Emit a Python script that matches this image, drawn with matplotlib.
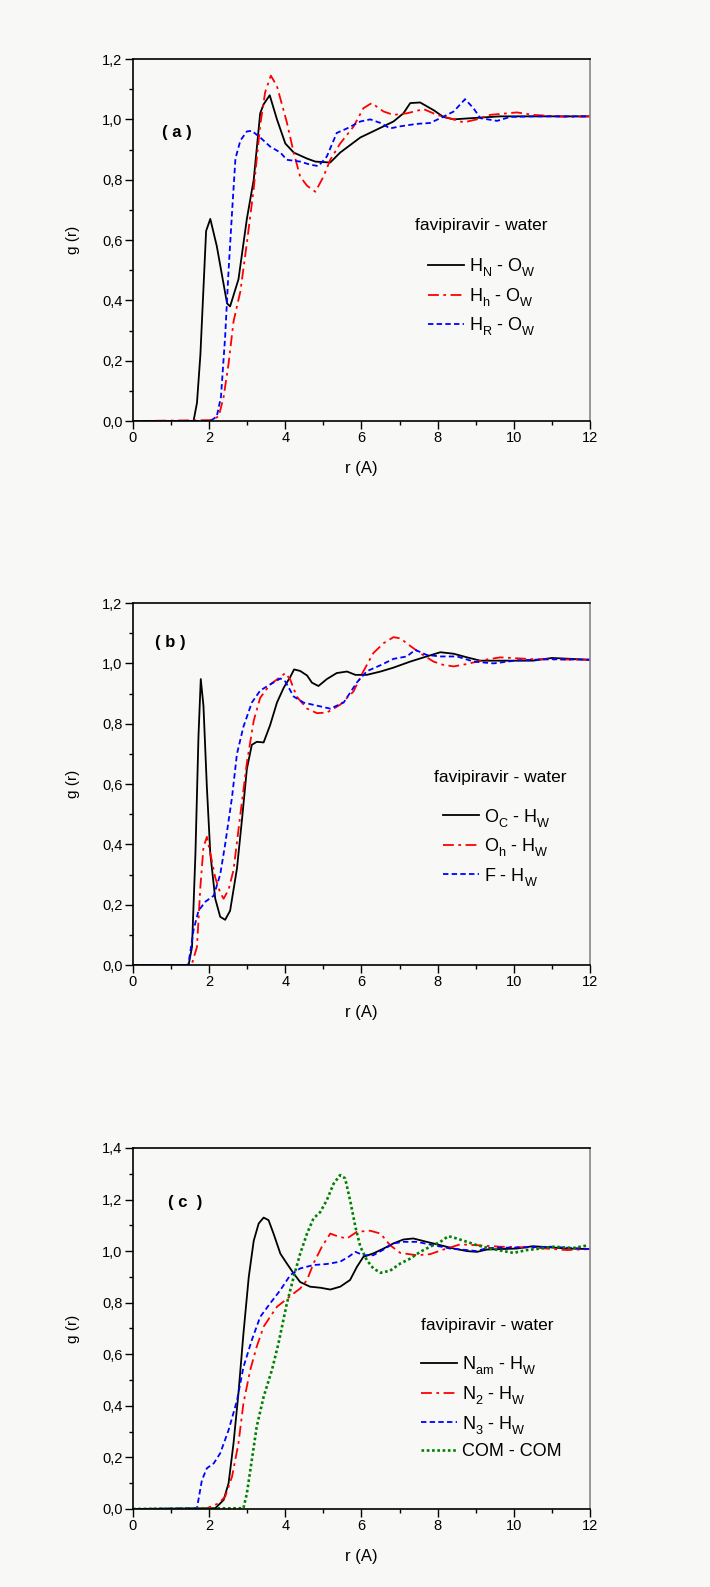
import numpy as np
import matplotlib
matplotlib.use('Agg')
import matplotlib.pyplot as plt
from matplotlib.ticker import MultipleLocator
import matplotlib._mathtext as mt

plt.rcParams['font.family'] = ['Liberation Sans', 'DejaVu Sans']
plt.rcParams['mathtext.default'] = 'regular'
# subscripts sit lower in the original figure
mt.FontConstantsBase.sub1 = 0.5
mt.FontConstantsBase.sub2 = 0.6

# ---------------- panel (a) : favipiravir H - water O ----------------
a_hn_r = [0, 1.59, 1.68, 1.77, 1.92, 2.03, 2.2, 2.47, 2.55, 2.77, 2.99, 3.17, 3.34, 3.43, 3.59, 3.78,
          4.0, 4.22, 4.57, 4.79, 5.18, 5.44, 5.97, 6.4, 6.84, 7.1, 7.28, 7.54, 7.9, 8.15, 8.42, 8.77,
          9.64, 12]
a_hn_g = [0, 0, 0.06, 0.22, 0.63, 0.67, 0.58, 0.39, 0.38, 0.47, 0.67, 0.80, 1.02, 1.05, 1.08, 1.0,
          0.92, 0.89, 0.87, 0.86, 0.857, 0.89, 0.94, 0.966, 0.993, 1.02, 1.054, 1.056, 1.03, 1.008, 1.0, 1.003,
          1.01, 1.01]
a_hh_r = [0, 2.03, 2.25, 2.38, 2.51, 2.64, 2.82, 2.99, 3.17, 3.34, 3.47, 3.62, 3.78, 4.04, 4.22, 4.39,
          4.57, 4.79, 5.0, 5.18, 5.44, 5.79, 6.05, 6.27, 6.58, 6.84, 7.19, 7.63, 7.98, 8.42, 8.68, 9.03,
          9.38, 10.08, 10.5, 11.4, 12]
a_hh_g = [0, 0.003, 0.015, 0.08, 0.19, 0.33, 0.43, 0.59, 0.77, 0.98, 1.09, 1.145, 1.11, 0.99, 0.89, 0.81,
          0.78, 0.76, 0.81, 0.866, 0.92, 0.976, 1.037, 1.054, 1.026, 1.015, 1.02, 1.034, 1.015, 1.0, 0.99, 1.0,
          1.015, 1.023, 1.015, 1.008, 1.01]
a_hr_r = [0, 2.03, 2.2, 2.31, 2.42, 2.51, 2.6, 2.69, 2.82, 2.99, 3.12, 3.34, 3.6, 3.87, 4.04, 4.39,
          4.65, 4.87, 5.09, 5.35, 5.62, 5.97, 6.23, 6.5, 6.75, 7.02, 7.45, 7.8, 8.07, 8.42, 8.72, 8.94,
          9.12, 9.56, 9.9, 10.5, 12]
a_hr_g = [0, 0, 0.015, 0.08, 0.28, 0.5, 0.69, 0.87, 0.93, 0.96, 0.962, 0.94, 0.91, 0.89, 0.866, 0.86,
          0.85, 0.845, 0.877, 0.955, 0.97, 0.993, 1.0, 0.988, 0.97, 0.977, 0.985, 0.988, 1.004, 1.026, 1.067, 1.037,
          1.004, 0.995, 1.008, 1.01, 1.01]

# ---------------- panel (b) : favipiravir O/F - water H ----------------
b_oc_r = [0, 1.46, 1.55, 1.64, 1.72, 1.78, 1.85, 1.94, 2.03, 2.16, 2.29, 2.42, 2.55, 2.73, 2.86, 2.99,
          3.12, 3.25, 3.43, 3.6, 3.78, 3.96, 4.13, 4.23, 4.39, 4.57, 4.7, 4.87, 5.09, 5.35, 5.62, 5.84,
          6.14, 6.5, 6.84, 7.28, 7.71, 8.07, 8.42, 8.77, 9.12, 9.64, 10.5, 11.0, 12]
b_oc_g = [0, 0, 0.06, 0.37, 0.76, 0.948, 0.86, 0.59, 0.37, 0.22, 0.16, 0.15, 0.18, 0.32, 0.48, 0.65,
          0.73, 0.74, 0.738, 0.795, 0.87, 0.92, 0.955, 0.98, 0.975, 0.96, 0.936, 0.925, 0.948, 0.968, 0.973, 0.962,
          0.962, 0.973, 0.986, 1.006, 1.023, 1.037, 1.032, 1.02, 1.009, 1.009, 1.009, 1.018, 1.012]
b_oh_r = [0, 1.5, 1.55, 1.68, 1.77, 1.85, 1.94, 2.03, 2.16, 2.29, 2.38, 2.51, 2.64, 2.82, 2.99, 3.17,
          3.34, 3.6, 3.87, 4.0, 4.13, 4.3, 4.57, 4.83, 5.09, 5.44, 5.79, 6.05, 6.31, 6.58, 6.84, 7.02,
          7.28, 7.54, 7.89, 8.15, 8.42, 8.77, 9.2, 9.64, 10.5, 12]
b_oh_g = [0, 0, 0.005, 0.06, 0.26, 0.39, 0.425, 0.37, 0.29, 0.24, 0.22, 0.25, 0.315, 0.50, 0.67, 0.81,
          0.886, 0.93, 0.955, 0.968, 0.946, 0.89, 0.85, 0.835, 0.837, 0.863, 0.907, 0.974, 1.034, 1.067, 1.087, 1.083,
          1.058, 1.034, 1.006, 0.995, 0.99, 0.998, 1.011, 1.02, 1.014, 1.012]
b_f_r = [0, 1.45, 1.5, 1.59, 1.72, 1.9, 2.12, 2.29, 2.42, 2.6, 2.73, 2.9, 3.12, 3.34, 3.6, 3.87,
         4.0, 4.22, 4.48, 4.83, 5.18, 5.53, 5.88, 6.14, 6.5, 6.84, 7.19, 7.41, 7.71, 8.07, 8.51, 8.94,
         9.47, 10.08, 10.95, 12]
b_f_g = [0, 0, 0.04, 0.116, 0.18, 0.21, 0.23, 0.30, 0.40, 0.556, 0.70, 0.79, 0.87, 0.91, 0.93, 0.95,
         0.94, 0.89, 0.87, 0.86, 0.85, 0.87, 0.937, 0.974, 0.994, 1.015, 1.023, 1.045, 1.028, 1.023, 1.023, 1.006,
         1.0, 1.01, 1.014, 1.012]

# ---------------- panel (c) : favipiravir N - water H, COM - COM ----------------
c_nam_r = [0, 2.16, 2.38, 2.51, 2.64, 2.77, 2.9, 3.04, 3.17, 3.3, 3.43, 3.56, 3.69, 3.87, 4.04, 4.22,
           4.39, 4.65, 4.92, 5.18, 5.44, 5.7, 5.88, 6.05, 6.31, 6.58, 6.84, 7.1, 7.36, 7.71, 8.07, 8.42,
           8.77, 9.03, 9.29, 10.08, 10.5, 11.4, 12]
c_nam_g = [0, 0.003, 0.035, 0.1, 0.255, 0.45, 0.68, 0.90, 1.04, 1.107, 1.13, 1.12, 1.068, 0.99, 0.952, 0.913,
           0.88, 0.862, 0.858, 0.851, 0.862, 0.888, 0.939, 0.978, 0.991, 1.01, 1.03, 1.045, 1.049, 1.036, 1.023, 1.01,
           1.0, 0.997, 1.006, 1.01, 1.019, 1.01, 1.008]
c_n2_r = [0, 1.9, 2.03, 2.25, 2.42, 2.6, 2.77, 2.9, 3.08, 3.25, 3.43, 3.6, 3.78, 4.0, 4.22, 4.39,
          4.57, 4.74, 4.96, 5.18, 5.4, 5.62, 5.88, 6.23, 6.5, 6.75, 7.02, 7.45, 7.8, 8.15, 8.59, 9.03,
          9.64, 10.5, 11.4, 12]
c_n2_g = [0, 0, 0.009, 0.022, 0.048, 0.125, 0.255, 0.41, 0.54, 0.63, 0.707, 0.745, 0.784, 0.81, 0.836, 0.855,
          0.888, 0.952, 1.017, 1.068, 1.056, 1.049, 1.075, 1.079, 1.068, 1.023, 0.993, 0.984, 0.988, 1.006, 1.026, 1.023,
          1.017, 1.014, 1.004, 1.008]
c_n3_r = [0, 1.68, 1.81, 1.94, 2.12, 2.29, 2.51, 2.73, 2.9, 3.12, 3.34, 3.6, 3.87, 4.13, 4.39, 4.74,
          5.09, 5.44, 5.66, 5.84, 6.05, 6.31, 6.58, 6.84, 7.1, 7.45, 7.89, 8.33, 8.77, 9.03, 9.29, 10.08,
          10.95, 12]
c_n3_g = [0, 0.003, 0.112, 0.158, 0.177, 0.216, 0.306, 0.42, 0.55, 0.655, 0.745, 0.797, 0.849, 0.907, 0.933, 0.946,
          0.95, 0.959, 0.978, 0.997, 0.984, 0.984, 1.006, 1.03, 1.036, 1.036, 1.023, 1.01, 1.004, 1.0, 1.012, 1.014,
          1.017, 1.008]
c_com_r = [0, 2.9, 2.99, 3.12, 3.25, 3.43, 3.65, 3.82, 4.04, 4.22, 4.39, 4.57, 4.74, 4.92, 5.09, 5.27,
           5.44, 5.57, 5.7, 5.84, 5.97, 6.14, 6.31, 6.5, 6.75, 7.02, 7.28, 7.54, 7.8, 8.07, 8.28, 8.5,
           8.77, 9.03, 9.38, 9.73, 9.99, 10.34, 10.7, 11.05, 11.56, 11.96]
c_com_g = [0, 0.003, 0.06, 0.19, 0.32, 0.435, 0.54, 0.642, 0.797, 0.90, 0.99, 1.068, 1.127, 1.152, 1.198, 1.262,
           1.295, 1.282, 1.198, 1.094, 1.017, 0.965, 0.933, 0.916, 0.924, 0.952, 0.971, 0.997, 1.017, 1.036, 1.058, 1.049,
           1.036, 1.023, 1.01, 1.0, 0.993, 1.004, 1.01, 1.017, 1.012, 1.023]

bg = '#f8f8f6'
fig = plt.figure(figsize=(7.1, 15.87), dpi=100, facecolor=bg)

styles = {
    'k': dict(color='black', linestyle='-', linewidth=1.3),
    'r': dict(color='#ff0000', linestyle=(0, (6, 2.5, 1.5, 2.5)), linewidth=1.3),
    'b': dict(color='#0000ff', linestyle=(0, (3, 1.8)), linewidth=1.3),
    'g': dict(color='#008000', linestyle=(0, (1, 1)), linewidth=1.9),
}


def setup_axes(rect, ymax, ystep):
    ax = fig.add_axes(rect, facecolor=bg)
    ax.set_xlim(0, 12)
    ax.set_ylim(0, ymax)
    ax.xaxis.set_major_locator(MultipleLocator(2))
    ax.xaxis.set_minor_locator(MultipleLocator(1))
    ax.yaxis.set_major_locator(MultipleLocator(ystep))
    ax.yaxis.set_minor_locator(MultipleLocator(ystep / 2))
    ax.yaxis.set_major_formatter(plt.FuncFormatter(lambda v, p: f'{v:.1f}'.replace('.', ',')))
    ax.tick_params(which='major', direction='out', length=5.5, width=1, labelsize=10.5, pad=2)
    ax.tick_params(which='minor', direction='out', length=3, width=1)
    ax.spines['right'].set_color('#888888')
    for s in ax.spines.values():
        s.set_linewidth(1.2)
    ax.set_xlabel('r (A)', fontsize=12)
    ax.set_ylabel('g (r)', fontsize=11)
    ax.xaxis.set_label_coords(0.5, -0.11)
    ax.yaxis.set_label_coords(-0.116, 0.5)
    return ax


def add_texts(ax, tag, tx, ty, fx, fy):
    ax.text(tx, ty, tag, transform=ax.transAxes, fontsize=12, fontweight='bold', va='center', ha='left')
    ax.text(fx, fy, 'favipiravir - water', transform=ax.transAxes, fontsize=12.5, va='center', ha='left')


leg_kw = dict(loc='upper left', frameon=False, fontsize=13, handlelength=2.0, handletextpad=0.3,
              labelspacing=0.42, borderpad=0, borderaxespad=0)

# panel a
ax1 = setup_axes([0.1873, 0.7347, 0.6437, 0.2281], 1.2, 0.2)
ax1.plot(a_hn_r, a_hn_g, label=r'H$_{N}$ - O$_{W}$', **styles['k'])
ax1.plot(a_hh_r, a_hh_g, label=r'H$_{h}$ - O$_{W}$', **styles['r'])
ax1.plot(a_hr_r, a_hr_g, label=r'H$_{R}$ - O$_{W}$', **styles['b'])
add_texts(ax1, '( a )', 0.063, 0.798, 0.617, 0.539)
ax1.legend(bbox_to_anchor=(0.645, 0.455), **leg_kw)

# panel b
ax2 = setup_axes([0.1873, 0.3919, 0.6437, 0.2281], 1.2, 0.2)
ax2.plot(b_oc_r, b_oc_g, label=r'O$_{C}$ - H$_{W}$', **styles['k'])
ax2.plot(b_oh_r, b_oh_g, label=r'O$_{h}$ - H$_{W}$', **styles['r'])
ax2.plot(b_f_r, b_f_g, label=r'F - H$_{W}$', **styles['b'])
add_texts(ax2, '( b )', 0.048, 0.892, 0.659, 0.519)
ax2.legend(bbox_to_anchor=(0.678, 0.438), **leg_kw)

# panel c
ax3 = setup_axes([0.1873, 0.04915, 0.6437, 0.2275], 1.4, 0.2)
ax3.yaxis.set_minor_locator(MultipleLocator(0.1))
ax3.plot(c_nam_r, c_nam_g, label=r'N$_{am}$ - H$_{W}$', **styles['k'])
ax3.plot(c_n2_r, c_n2_g, label=r'N$_{2}$ - H$_{W}$', **styles['r'])
ax3.plot(c_n3_r, c_n3_g, label=r'N$_{3}$ - H$_{W}$', **styles['b'])
ax3.plot(c_com_r, c_com_g, label='COM - COM', **styles['g'])
add_texts(ax3, '( c  )', 0.0766, 0.850, 0.630, 0.507)
ax3.legend(bbox_to_anchor=(0.630, 0.428), **leg_kw)

fig.savefig('out.png', dpi=100, facecolor=bg)
